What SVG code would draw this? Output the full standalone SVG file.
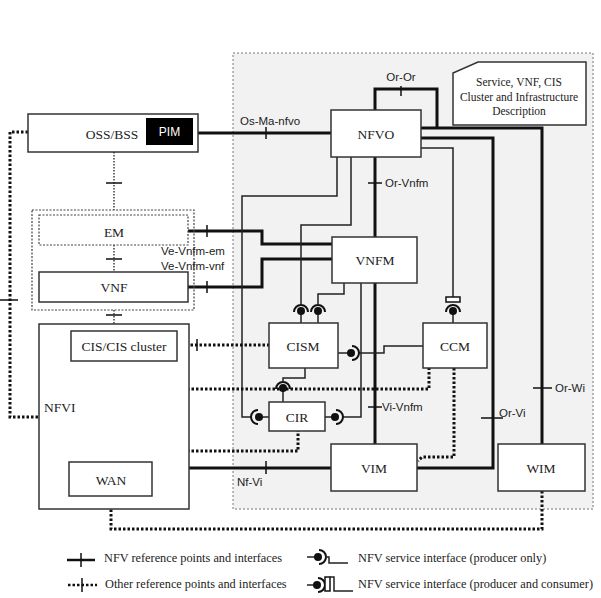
<svg xmlns="http://www.w3.org/2000/svg" width="601" height="598" viewBox="0 0 601 598">
<style>
.box{fill:#fff;stroke:#333;stroke-width:1.5}
.dbox{fill:#fff;stroke:#444;stroke-width:1.2;stroke-dasharray:2 1.5}
.thick{fill:none;stroke:#111;stroke-width:3}
.thin{fill:none;stroke:#222;stroke-width:1.5}
.dot{fill:none;stroke:#111;stroke-width:3;stroke-dasharray:2.5 2}
.dotthin{fill:none;stroke:#333;stroke-width:1.4;stroke-dasharray:1.5 1.5}
.tick{fill:none;stroke:#111;stroke-width:1.5}
.arc{fill:none;stroke:#111;stroke-width:2}
.ball{fill:#111}
.serif{font-family:"Liberation Serif","Times New Roman",serif;font-size:13.5px;fill:#222}
.sans{font-family:"Liberation Sans",Arial,sans-serif;font-size:11.5px;fill:#222}
.desc{font-family:"Liberation Serif","Times New Roman",serif;font-size:11.5px;fill:#222}
.leg{font-family:"Liberation Serif","Times New Roman",serif;font-size:12.3px;fill:#222}
.mid{text-anchor:middle}
</style>
<rect x="0" y="0" width="601" height="598" fill="#fff"/>
<rect id="mano-region" x="233" y="53" width="360" height="456" fill="#f2f2f2" stroke="#777" stroke-width="1" stroke-dasharray="2 2"/>

<g id="connectors">
  <!-- thick reference points -->
  <path class="thick" d="M198,133 H331"/>
  <path class="thick" d="M375,110 V89 H437 V128"/>
  <path class="thick" d="M421,128 H542 V444"/>
  <path class="thick" d="M421,138 H493 V468 H417"/>
  <path class="thick" d="M375,157 V237"/>
  <path class="thick" d="M375,283 V444"/>
  <path class="thick" d="M188,231 H262 V244 H332"/>
  <path class="thick" d="M188,287 H262 V259 H332"/>
  <path class="thick" d="M189,468 H331"/>
  <!-- thin service interface lines -->
  <path class="thin" d="M421,148 H453 V297"/>
  <path class="thin" d="M337,157 V196 H242 V417 H251"/>
  <path class="thin" d="M351,157 V225 H301 V304"/>
  <path class="thin" d="M344,283 V294 H318 V304"/>
  <path class="thin" d="M361,283 V417 H343"/>
  <path class="thin" d="M359,353 H384 V346 H423"/>
  <path class="thin" d="M305,368 V378 H283 V381"/>
  <!-- dotted other reference points -->
  <path class="dot" d="M28,132 H10 V417 H39"/>
  <path class="dot" d="M177,345 H269"/>
  <path class="dot" d="M124,361 V451 H298 V431"/>
  <path class="dot" d="M124,389 H429 V368"/>
  <path class="dot" d="M454,368 V457 H422 L418,461"/>
  <path class="dot" d="M111,496 V529 H542 V491"/>
  <path class="dotthin" d="M114,152 V210"/>
  <path class="dotthin" d="M114,245 V272"/>
  <path class="dotthin" d="M114,310 V324"/>
  <!-- ticks -->
  <path class="tick" d="M266,127 V139 M401,86 V96 M368,183 H382 M368,407 H382 M481,418 H503 M533,388 H552 M266,461 V474 M106,183 H122 M106,259 H122 M106,315 H122 M197,339 V351 M162,383 V395 M162,445 V457 M0,300 H18 M207,225 V237 M207,281 V293"/>
  <!-- service interface symbols -->
  <g id="si-cism-top1"><path class="thin" d="M301,311 V323"/><circle class="ball" cx="301" cy="311" r="4"/><path class="arc" d="M294,312 A7,7 0 0 1 308,312"/></g>
  <g id="si-cism-top2"><path class="thin" d="M318,311 V323"/><circle class="ball" cx="318" cy="311" r="4"/><path class="arc" d="M311,312 A7,7 0 0 1 325,312"/></g>
  <g id="si-cism-right"><path class="thin" d="M338,353 H351"/><circle class="ball" cx="351" cy="353" r="4"/><path class="arc" d="M352,346 A7,7 0 0 1 352,360"/></g>
  <g id="si-cir-top"><path class="thin" d="M283,388 V402"/><circle class="ball" cx="283" cy="388" r="4"/><path class="arc" d="M276,389 A7,7 0 0 1 290,389"/></g>
  <g id="si-cir-left"><path class="thin" d="M259,417 H269"/><circle class="ball" cx="259" cy="417" r="4"/><path class="arc" d="M258,410 A7,7 0 0 0 258,424"/></g>
  <g id="si-cir-right"><path class="thin" d="M325,417 H335"/><circle class="ball" cx="335" cy="417" r="4"/><path class="arc" d="M336,410 A7,7 0 0 1 336,424"/></g>
  <g id="si-ccm-top"><path class="thin" d="M453,311 V323"/><circle class="ball" cx="453" cy="311" r="4"/><path class="arc" d="M446,312 A7,7 0 0 1 460,312"/><rect x="446" y="297" width="14" height="5" fill="#fff" stroke="#111" stroke-width="1.5"/></g>
</g>

<g id="oss-bss">
  <rect class="box" x="28" y="114" width="170" height="38"/>
  <text class="serif mid" x="112" y="139">OSS/BSS</text>
  <g id="pim">
    <rect x="146" y="118" width="47" height="27" fill="#000"/>
    <text class="mid" x="169.5" y="136" font-family="Liberation Sans, Arial, sans-serif" font-size="12" fill="#fff">PIM</text>
  </g>
</g>

<g id="em-vnf-group">
  <rect x="32" y="210" width="162" height="100" fill="none" stroke="#444" stroke-width="1.2" stroke-dasharray="2 1.5"/>
  <g id="em">
    <rect class="dbox" x="39" y="215" width="149" height="30"/>
    <text class="serif mid" x="114" y="237">EM</text>
  </g>
  <g id="vnf">
    <rect class="box" x="39" y="272" width="149" height="30"/>
    <text class="serif mid" x="114" y="292">VNF</text>
  </g>
</g>

<g id="nfvi">
  <rect class="box" x="39" y="324" width="150" height="185"/>
  <text class="serif" x="44" y="412">NFVI</text>
  <g id="cis-cluster">
    <rect class="box" x="71" y="331" width="106" height="30"/>
    <text class="serif mid" x="124" y="351">CIS/CIS cluster</text>
  </g>
  <g id="wan">
    <rect class="box" x="69" y="462" width="83" height="34"/>
    <text class="serif mid" x="111" y="485">WAN</text>
  </g>
</g>

<g id="nfvo">
  <rect class="box" x="331" y="110" width="90" height="47"/>
  <text class="serif mid" x="376" y="139">NFVO</text>
</g>
<g id="vnfm">
  <rect class="box" x="332" y="237" width="85" height="46"/>
  <text class="serif mid" x="375" y="265">VNFM</text>
</g>
<g id="cism">
  <rect class="box" x="269" y="323" width="69" height="45"/>
  <text class="serif mid" x="303" y="351">CISM</text>
</g>
<g id="ccm">
  <rect class="box" x="423" y="323" width="64" height="45"/>
  <text class="serif mid" x="455" y="351">CCM</text>
</g>
<g id="cir">
  <rect class="box" x="269" y="402" width="56" height="29"/>
  <text class="serif mid" x="297" y="422">CIR</text>
</g>
<g id="vim">
  <rect class="box" x="331" y="444" width="86" height="47"/>
  <text class="serif mid" x="374" y="473">VIM</text>
</g>
<g id="wim">
  <rect class="box" x="498" y="444" width="87" height="47"/>
  <text class="serif mid" x="541" y="473">WIM</text>
</g>
<g id="description">
  <path class="box" d="M478,62 H586 V125 H453 V73 Z"/>
  <text class="desc mid" x="519" y="86">Service, VNF, CIS</text>
  <text class="desc mid" x="519" y="101">Cluster and Infrastructure</text>
  <text class="desc mid" x="519" y="115">Description</text>
</g>

<g id="labels">
  <text class="sans mid" x="401" y="81">Or-Or</text>
  <text class="sans" x="240" y="125">Os-Ma-nfvo</text>
  <text class="sans" x="385" y="187">Or-Vnfm</text>
  <text class="sans" x="161" y="255">Ve-Vnfm-em</text>
  <text class="sans" x="161" y="270">Ve-Vnfm-vnf</text>
  <text class="sans" x="382" y="411">Vi-Vnfm</text>
  <text class="sans" x="499" y="417">Or-Vi</text>
  <text class="sans" x="555" y="392">Or-Wi</text>
  <text class="sans" x="237" y="486">Nf-Vi</text>
</g>

<g id="legend">
  <path class="thick" style="stroke-width:2.5" d="M67,560 H95"/>
  <path class="tick" d="M81,553 V567"/>
  <text class="leg" x="104" y="562">NFV reference points and interfaces</text>
  <path class="dot" style="stroke-width:2.5" d="M68,585 H97"/>
  <path class="tick" d="M82,578 V592"/>
  <text class="leg" x="105" y="588">Other reference points and interfaces</text>
  <path class="thin" d="M307,557 H318"/>
  <circle class="ball" cx="318" cy="557" r="4"/>
  <path class="arc" d="M319,550 A7,7 0 0 1 319,564"/>
  <path class="thin" d="M325,557 H329 V563 H348"/>
  <text class="leg" x="358" y="562">NFV service interface (producer only)</text>
  <path class="thin" d="M307,585 H317"/>
  <circle class="ball" cx="317" cy="585" r="4"/>
  <path class="arc" d="M318,578 A7,7 0 0 1 318,592"/>
  <rect x="325" y="577" width="5" height="14" fill="#fff" stroke="#111" stroke-width="1.5"/>
  <path class="thin" d="M330,577 H334 V591 H353"/>
  <text class="leg" x="358" y="588">NFV service interface (producer and consumer)</text>
</g>
</svg>
